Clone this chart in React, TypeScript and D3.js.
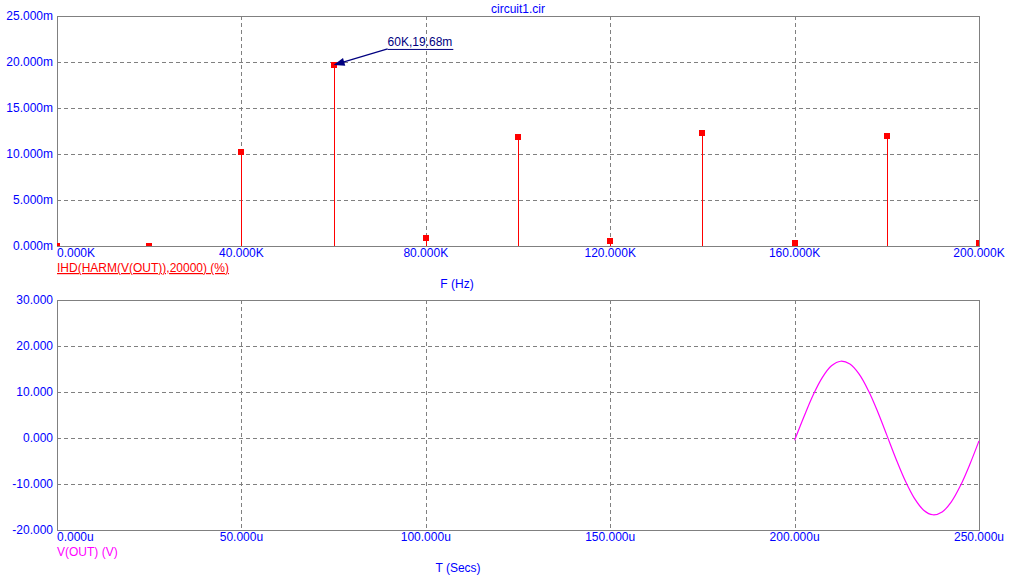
import { useEffect, useRef } from 'react';
import * as d3 from 'd3';

// Harmonic distortion (IHD, in m%) per harmonic frequency
const harmonicFreqs = [0, 20000, 40000, 60000, 80000, 100000, 120000, 140000, 160000, 180000, 200000];
const harmonicIHD = [0, 0, 10.25, 19.68, 0.9, 11.85, 0.58, 12.3, 0.35, 11.95, 0.35];

// V(OUT) transient (time in us, volts)
const timeUs = [200, 202.5, 205, 207.5, 210, 212.5, 215, 217.5, 220, 222.5, 225, 227.5, 230, 232.5, 235, 237.5, 240, 242.5, 245, 247.5, 250];
const vOut = [-0.5, 4.56, 9.3, 13.13, 15.69, 16.69, 16.07, 13.88, 10.32, 5.76, 0.63, -4.56, -9.3, -13.13, -15.69, -16.69, -16.07, -13.88, -10.32, -5.76, -0.63];

const freqTicks = [0, 40000, 80000, 120000, 160000, 200000];
const ihdTicks = [0, 5, 10, 15, 20, 25];
const timeTicks = [0, 50, 100, 150, 200, 250];
const voltTicks = [-20, -10, 0, 10, 20, 30];

const FONT = '"Liberation Sans", Arial, sans-serif';
const GRID = '#808080';
const BLUE = '#0000ff';

const App = () => {
  const ref = useRef<SVGSVGElement | null>(null);

  useEffect(() => {
    const svg = d3.select(ref.current);
    svg.selectAll('*').remove();

    const left = 57;
    const right = 979;

    const drawFrame = (
      g: d3.Selection<SVGGElement, unknown, null, undefined>,
      x: d3.ScaleLinear<number, number>,
      y: d3.ScaleLinear<number, number>,
      xTicks: number[],
      yTicks: number[],
      fx: (d: number) => string,
      fy: (d: number) => string,
    ) => {
      const [x0, x1] = x.range();
      const [y0, y1] = y.range();

      // dashed grid
      g.selectAll('.hgrid')
        .data(yTicks.slice(1, -1))
        .enter()
        .append('line')
        .attr('x1', x0)
        .attr('x2', x1)
        .attr('y1', d => Math.round(y(d)) + 0.5)
        .attr('y2', d => Math.round(y(d)) + 0.5)
        .attr('stroke', GRID)
        .attr('stroke-dasharray', '4,3')
        .attr('shape-rendering', 'crispEdges');

      g.selectAll('.vgrid')
        .data(xTicks.slice(1, -1))
        .enter()
        .append('line')
        .attr('x1', d => Math.round(x(d)) + 0.5)
        .attr('x2', d => Math.round(x(d)) + 0.5)
        .attr('y1', y1)
        .attr('y2', y0)
        .attr('stroke', GRID)
        .attr('stroke-dasharray', '4,3')
        .attr('shape-rendering', 'crispEdges');

      g.append('rect')
        .attr('x', x0 + 0.5)
        .attr('y', y1 + 0.5)
        .attr('width', x1 - x0)
        .attr('height', y0 - y1)
        .attr('fill', 'none')
        .attr('stroke', GRID)
        .attr('shape-rendering', 'crispEdges');

      // y tick labels
      g.selectAll('.ylab')
        .data(yTicks)
        .enter()
        .append('text')
        .attr('x', x0 - 4)
        .attr('y', d => y(d))
        .attr('dy', '0.36em')
        .attr('text-anchor', 'end')
        .attr('fill', BLUE)
        .text(fy);

      // x tick labels (first one starts at the axis)
      g.selectAll('.xlab')
        .data(xTicks)
        .enter()
        .append('text')
        .attr('x', (d, i) => (i === 0 ? x0 : x(d)))
        .attr('y', y0 + 11)
        .attr('text-anchor', (d, i) => (i === 0 ? 'start' : 'middle'))
        .attr('fill', BLUE)
        .text(fx);
    };

    const root = svg.append('g').attr('font-family', FONT).attr('font-size', 12);

    root.append('text')
      .attr('x', 518)
      .attr('y', 13)
      .attr('text-anchor', 'middle')
      .attr('fill', BLUE)
      .text('circuit1.cir');

    // ---------- top plot: harmonics ----------
    const xF = d3.scaleLinear().domain([0, 200000]).range([left, right]);
    const yH = d3.scaleLinear().domain([0, 25]).range([246, 16]);

    const top = root.append('g');
    drawFrame(top, xF, yH, freqTicks, ihdTicks,
      d => `${(d / 1000).toFixed(3)}K`,
      d => `${d.toFixed(3)}m`);

    svg.append('defs')
      .append('clipPath')
      .attr('id', 'clipTop')
      .append('rect')
      .attr('x', left)
      .attr('y', 16)
      .attr('width', right - left)
      .attr('height', 230);

    const stems = top.append('g').attr('clip-path', 'url(#clipTop)');
    stems.selectAll('.stem')
      .data(harmonicFreqs)
      .enter()
      .append('line')
      .attr('x1', d => Math.round(xF(d)) + 0.5)
      .attr('x2', d => Math.round(xF(d)) + 0.5)
      .attr('y1', yH(0))
      .attr('y2', (d, i) => yH(harmonicIHD[i]))
      .attr('stroke', '#ff0000')
      .attr('shape-rendering', 'crispEdges');

    stems.selectAll('.mark')
      .data(harmonicFreqs)
      .enter()
      .append('rect')
      .attr('x', d => Math.round(xF(d)) - 3)
      .attr('y', (d, i) => Math.round(yH(harmonicIHD[i])) - 3)
      .attr('width', 6)
      .attr('height', 6)
      .attr('fill', '#ff0000');

    root.append('text')
      .attr('x', left)
      .attr('y', 272)
      .attr('fill', '#ff0000')
      .attr('text-decoration', 'underline')
      .text('IHD(HARM(V(OUT)),20000) (%)');

    root.append('text')
      .attr('x', 457)
      .attr('y', 288)
      .attr('text-anchor', 'middle')
      .attr('fill', BLUE)
      .text('F (Hz)');

    // annotation on the 60K peak
    const px = xF(60000);
    const py = yH(19.68);
    const navy = '#000080';
    const tx = px + 54;
    const ty = py - 16;
    const lab = root.append('text')
      .attr('x', tx)
      .attr('y', ty - 3)
      .attr('fill', navy)
      .text('60K,19.68m');
    const tw = (lab.node() as SVGTextElement).getComputedTextLength();
    root.append('line')
      .attr('x1', tx).attr('x2', tx + tw + 1)
      .attr('y1', ty + 0.5).attr('y2', ty + 0.5)
      .attr('stroke', navy);
    root.append('line')
      .attr('x1', tx).attr('y1', ty)
      .attr('x2', px + 2).attr('y2', py - 0.5)
      .attr('stroke', navy)
      .attr('stroke-width', 1.2);
    const ang = Math.atan2(ty - py, tx - px);
    const hl = 11;
    const hw = 4;
    const bx = px + hl * Math.cos(ang);
    const by = py + hl * Math.sin(ang);
    root.append('polygon')
      .attr('points', [
        [px, py],
        [bx - hw * Math.sin(ang), by + hw * Math.cos(ang)],
        [bx + hw * Math.sin(ang), by - hw * Math.cos(ang)],
      ].map(p => p.join(',')).join(' '))
      .attr('fill', navy);

    // ---------- bottom plot: transient ----------
    const xT = d3.scaleLinear().domain([0, 250]).range([left, right]);
    const yV = d3.scaleLinear().domain([-20, 30]).range([530, 300]);

    const bottom = root.append('g');
    drawFrame(bottom, xT, yV, timeTicks, voltTicks,
      d => `${d.toFixed(3)}u`,
      d => d.toFixed(3));

    const line = d3.line<number>()
      .x((d, i) => xT(timeUs[i]))
      .y(d => yV(d))
      .curve(d3.curveCatmullRom);

    bottom.append('path')
      .attr('d', line(vOut))
      .attr('fill', 'none')
      .attr('stroke', '#ff00ff')
      .attr('stroke-width', 1.2);

    root.append('text')
      .attr('x', left)
      .attr('y', 556)
      .attr('fill', '#ff00ff')
      .text('V(OUT) (V)');

    root.append('text')
      .attr('x', 458)
      .attr('y', 572)
      .attr('text-anchor', 'middle')
      .attr('fill', BLUE)
      .text('T (Secs)');
  }, []);

  return (
    <svg
      ref={ref}
      width={1011}
      height={582}
      style={{ position: 'absolute', left: 0, top: 0, background: '#fff' }}
    />
  );
};

export default App;
